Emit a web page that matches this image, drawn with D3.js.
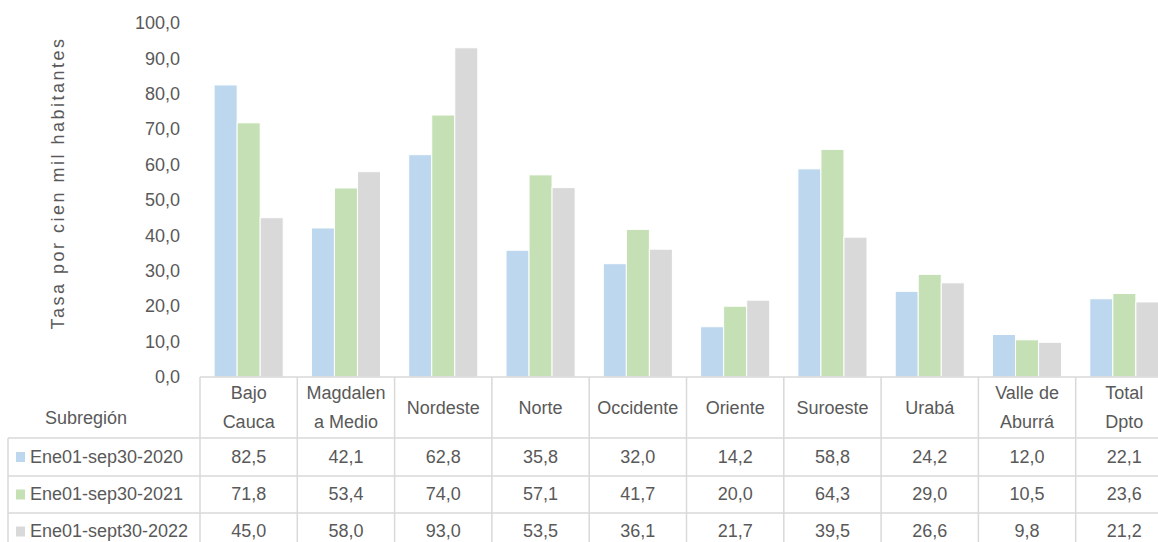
<!DOCTYPE html>
<html>
<head>
<meta charset="utf-8">
<script src="https://cdn.jsdelivr.net/npm/d3@7"></script>
<style>
  html, body { margin: 0; padding: 0; background: #fff; overflow: hidden; }
  svg text { font-family: "Liberation Sans", Arial, sans-serif; fill: #595959; }
</style>
</head>
<body>
<div id="chart"></div>
<script>
// categories (header lines of the table)
const categories = ["Bajo Cauca", "Magdalena Medio", "Nordeste", "Norte", "Occidente",
                    "Oriente", "Suroeste", "Urabá", "Valle de Aburrá", "Total Dpto"];
const categoryLines = [["Bajo", "Cauca"], ["Magdalen", "a Medio"], ["Nordeste"], ["Norte"], ["Occidente"],
                       ["Oriente"], ["Suroeste"], ["Urabá"], ["Valle de", "Aburrá"], ["Total", "Dpto"]];
const seriesNames = ["Ene01-sep30-2020", "Ene01-sep30-2021", "Ene01-sept30-2022"];
const values2020 = [82.5, 42.1, 62.8, 35.8, 32.0, 14.2, 58.8, 24.2, 12.0, 22.1];
const values2021 = [71.8, 53.4, 74.0, 57.1, 41.7, 20.0, 64.3, 29.0, 10.5, 23.6];
const values2022 = [45.0, 58.0, 93.0, 53.5, 36.1, 21.7, 39.5, 26.6, 9.8, 21.2];
const seriesColors = ["#bdd7ee", "#c5e0b4", "#d9d9d9"];
const yTicks = [0, 10, 20, 30, 40, 50, 60, 70, 80, 90, 100];

const series = [values2020, values2021, values2022];
const fmt = v => d3.format(".1f")(v).replace(".", ",");

const width = 1158, height = 542;
const plotLeft = 200, plotRight = 1173, plotTop = 23, plotBottom = 377;
const rowH = [61, 38, 37, 37]; // header row, then one row per series
const tableLeft = 8;
const gridColor = "#d9d9d9";

const svg = d3.select("#chart").append("svg")
    .attr("width", width)
    .attr("height", height);

const x0 = d3.scaleBand().domain(categories).range([plotLeft, plotRight]).padding(0);
const x1 = d3.scaleBand().domain(seriesNames)
    .range([x0.bandwidth() * 0.145, x0.bandwidth() * 0.855]).padding(0);
const y = d3.scaleLinear().domain([0, 100]).range([plotBottom, plotTop]);

// y axis labels
const yAxis = d3.axisLeft(y).tickValues(yTicks).tickFormat(fmt).tickSize(0).tickPadding(0);
const yg = svg.append("g").attr("transform", `translate(${plotLeft - 20},0)`).call(yAxis);
yg.select(".domain").remove();
yg.selectAll("text")
    .style("font-size", "18px")
    .style("font-family", "'Liberation Sans', Arial, sans-serif")
    .attr("fill", "#595959");

// y axis title
svg.append("text")
    .attr("transform", `translate(64,${(plotTop + plotBottom) / 2 - 17}) rotate(-90)`)
    .attr("text-anchor", "middle")
    .style("font-size", "18px")
    .style("letter-spacing", "2.5px")
    .text("Tasa por cien mil habitantes");

// bars
const groups = svg.append("g").selectAll("g")
    .data(categories)
    .join("g")
    .attr("transform", d => `translate(${x0(d)},0)`);

groups.selectAll("rect")
    .data((d, i) => seriesNames.map((s, j) => ({ s, j, v: series[j][i] })))
    .join("rect")
    .attr("x", d => x1(d.s))
    .attr("width", x1.bandwidth())
    .attr("y", d => y(d.v))
    .attr("height", d => y(0) - y(d.v))
    .attr("fill", d => seriesColors[d.j])
    .attr("stroke", "#fff")
    .attr("stroke-width", 1);

// data table
const table = svg.append("g");
const rowTops = [plotBottom];
rowH.forEach((h, i) => rowTops.push(rowTops[i] + h));

// horizontal lines
table.append("line")
    .attr("x1", plotLeft).attr("x2", plotRight)
    .attr("y1", rowTops[0]).attr("y2", rowTops[0]);
for (let r = 1; r < rowTops.length; r++) {
  table.append("line")
      .attr("x1", tableLeft).attr("x2", plotRight)
      .attr("y1", rowTops[r]).attr("y2", rowTops[r]);
}
// vertical lines
categories.forEach(c => {
  table.append("line")
      .attr("x1", x0(c)).attr("x2", x0(c))
      .attr("y1", rowTops[0]).attr("y2", rowTops[rowTops.length - 1]);
});
table.append("line")
    .attr("x1", tableLeft).attr("x2", tableLeft)
    .attr("y1", rowTops[1]).attr("y2", rowTops[rowTops.length - 1]);
table.selectAll("line")
    .attr("stroke", gridColor)
    .attr("stroke-width", 1.5);

// header
const headerMid = rowTops[0] + rowH[0] / 2;
categories.forEach((c, i) => {
  const lines = categoryLines[i];
  const t = table.append("text")
      .attr("x", x0(c) + x0.bandwidth() / 2)
      .attr("text-anchor", "middle")
      .style("font-size", "18px");
  lines.forEach((ln, k) => {
    t.append("tspan")
        .attr("x", x0(c) + x0.bandwidth() / 2)
        .attr("y", headerMid + 6 + (k - (lines.length - 1) / 2) * 29)
        .text(ln);
  });
});
table.append("text")
    .attr("x", 45)
    .attr("y", headerMid + 16)
    .style("font-size", "18px")
    .text("Subregión");

// series rows
seriesNames.forEach((s, j) => {
  const mid = rowTops[j + 1] + rowH[j + 1] / 2;
  table.append("rect")
      .attr("x", 16).attr("y", mid - 5)
      .attr("width", 9).attr("height", 10)
      .attr("fill", seriesColors[j]);
  table.append("text")
      .attr("x", 30).attr("y", mid + 5.5)
      .style("font-size", "18px")
      .text(s);
  categories.forEach((c, i) => {
    table.append("text")
        .attr("x", x0(c) + x0.bandwidth() / 2)
        .attr("y", mid + 5.5)
        .attr("text-anchor", "middle")
        .style("font-size", "18px")
        .text(fmt(series[j][i]));
  });
});
</script>
</body>
</html>
